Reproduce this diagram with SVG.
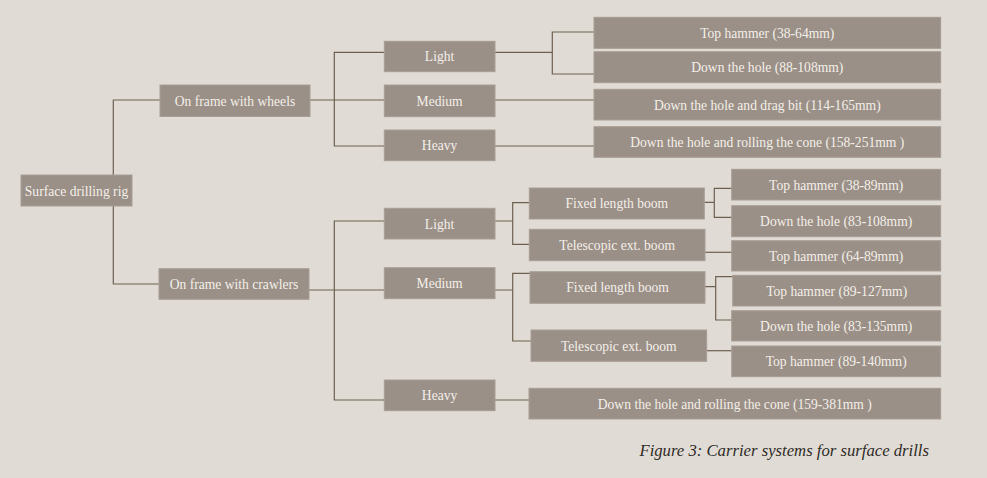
<svg xmlns="http://www.w3.org/2000/svg" width="987" height="478" viewBox="0 0 987 478">
<style>
.n rect{fill:#9b9087;stroke:#a89e95;stroke-width:1}
.n text{fill:#f3efe9;font-family:"Liberation Serif","DejaVu Serif",serif;font-size:13.6px;text-anchor:middle}
#connectors path{fill:none;stroke:#6e6051;stroke-width:1.2}
.cap{fill:#2f2b28;font-family:"Liberation Serif","DejaVu Serif",serif;font-size:16.7px;font-style:italic;text-anchor:end}
</style>
<rect width="987" height="478" fill="#e0dcd5"/>
<g id="connectors">
<path d="M160,100H113.3V284H160"/>
<path d="M310,100H334.3M384,52.3H334.3V146H384M334.3,100H384"/>
<path d="M495,52.3H552.3M594,32H552.3V74H594M495,100H594M495,146H594"/>
<path d="M309,290H334.3M384,221H334.3V400H384M334.3,290H384"/>
<path d="M495,221H512.7M529,202.7H512.7V244.3H529"/>
<path d="M495,290H512.7M530,273.3H512.7V341H531"/>
<path d="M495,400H529"/>
<path d="M704,202.3H714.3M732,188.3H714.3V217.3H732"/>
<path d="M705,252.3H732"/>
<path d="M705,286.7H715.7M733,276.7H715.7V320H733"/>
<path d="M706.7,350.7H732"/>
</g>
<g id="root" class="n"><rect x="21" y="175" width="111" height="31"/><text x="76.5" y="195.5">Surface drilling rig</text></g>
<g id="wheels" class="n"><rect x="160" y="85" width="150" height="31.5"/><text x="235" y="105.5">On frame with wheels</text></g>
<g id="crawlers" class="n"><rect x="159" y="268.7" width="150" height="30.6"/><text x="234" y="288.5">On frame with crawlers</text></g>
<g id="w-light" class="n"><rect x="384.3" y="41.3" width="110.7" height="30.4"/><text x="439.6" y="61">Light</text></g>
<g id="w-medium" class="n"><rect x="384.3" y="85" width="110.7" height="31.7"/><text x="439.6" y="105.5">Medium</text></g>
<g id="w-heavy" class="n"><rect x="384.3" y="130" width="110.7" height="30.7"/><text x="439.6" y="150">Heavy</text></g>
<g id="w-l-th" class="n"><rect x="594" y="17.3" width="346.7" height="31"/><text x="767.3" y="37.5">Top hammer (38-64mm)</text></g>
<g id="w-l-dth" class="n"><rect x="594" y="51.7" width="346.7" height="31"/><text x="767.3" y="72">Down the hole (88-108mm)</text></g>
<g id="w-m-dth" class="n"><rect x="594" y="89.3" width="346.7" height="30.7"/><text x="767.3" y="109.5">Down the hole and drag bit (114-165mm)</text></g>
<g id="w-h-dth" class="n"><rect x="594" y="126.7" width="346.7" height="30.6"/><text x="767.3" y="147">Down the hole and rolling the cone (158-251mm )</text></g>
<g id="c-light" class="n"><rect x="384.3" y="208.3" width="110.7" height="30.7"/><text x="439.6" y="228.5">Light</text></g>
<g id="c-medium" class="n"><rect x="384.3" y="267.7" width="110.7" height="31"/><text x="439.6" y="288">Medium</text></g>
<g id="c-heavy" class="n"><rect x="384.3" y="380" width="110.7" height="30.7"/><text x="439.6" y="400">Heavy</text></g>
<g id="c-l-fixed" class="n"><rect x="529.3" y="188" width="175" height="31"/><text x="616.8" y="208">Fixed length boom</text></g>
<g id="c-l-tele" class="n"><rect x="529.3" y="229.3" width="175.7" height="31.4"/><text x="617.2" y="249.5">Telescopic ext. boom</text></g>
<g id="c-m-fixed" class="n"><rect x="530" y="271.7" width="175" height="31.6"/><text x="617.5" y="292">Fixed length boom</text></g>
<g id="c-m-tele" class="n"><rect x="531" y="330" width="175.7" height="31.3"/><text x="618.8" y="350.5">Telescopic ext. boom</text></g>
<g id="c-lf-th" class="n"><rect x="731.7" y="169.3" width="209" height="30.7"/><text x="836.2" y="189.5">Top hammer (38-89mm)</text></g>
<g id="c-lf-dth" class="n"><rect x="731.7" y="205.7" width="209" height="31"/><text x="836.2" y="226">Down the hole (83-108mm)</text></g>
<g id="c-lt-th" class="n"><rect x="731.7" y="240.7" width="209" height="30.3"/><text x="836.2" y="260.5">Top hammer (64-89mm)</text></g>
<g id="c-mf-th" class="n"><rect x="732.7" y="275.3" width="208" height="30.7"/><text x="836.7" y="295.5">Top hammer (89-127mm)</text></g>
<g id="c-mf-dth" class="n"><rect x="731.7" y="310.7" width="209" height="30.3"/><text x="836.2" y="330.5">Down the hole (83-135mm)</text></g>
<g id="c-mt-th" class="n"><rect x="731.7" y="346" width="209" height="30.7"/><text x="836.2" y="366">Top hammer (89-140mm)</text></g>
<g id="c-h-dth" class="n"><rect x="529" y="388.3" width="411.7" height="30.7"/><text x="734.8" y="408.5">Down the hole and rolling the cone (159-381mm )</text></g>
<text class="cap" x="929" y="456">Figure 3: Carrier systems for surface drills</text>
</svg>
